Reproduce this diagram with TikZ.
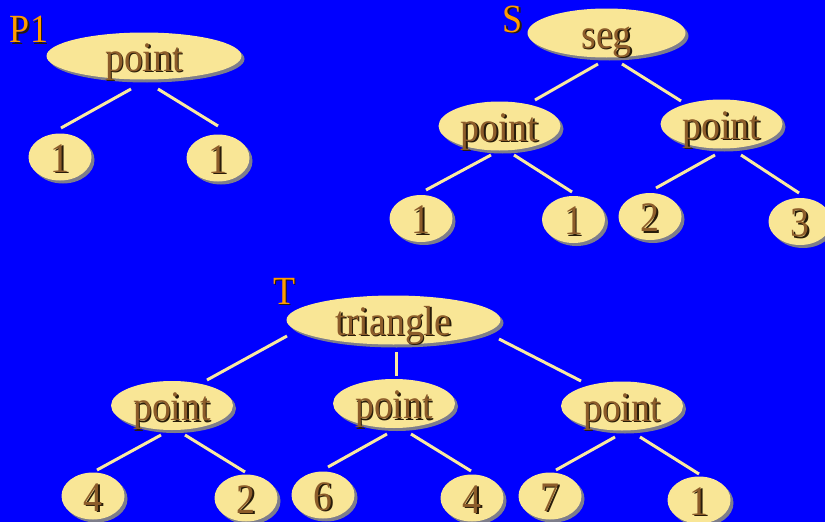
\documentclass[tikz,border=0pt]{standalone}
\usepackage{fontspec}
\setmainfont{Liberation Serif}[FakeStretch=0.9]
\usetikzlibrary{shapes.geometric,shadows}
\definecolor{bgblue}{RGB}{0,0,255}
\definecolor{ellfill}{RGB}{249,230,150}
\definecolor{edgecol}{RGB}{250,234,160}
\definecolor{shgray}{RGB}{125,125,140}
\definecolor{txtbrown}{RGB}{140,92,42}
\definecolor{txtshadow}{RGB}{40,28,10}
\definecolor{lblorange}{RGB}{255,155,0}
\newcommand{\shtxt}[1]{\makebox[0pt]{\smash{\raisebox{-15pt}{\rlap{\kern1.6pt\raisebox{-1.6pt}{\color{txtshadow}#1}}\color{txtbrown}#1}}}}
\newcommand{\lbltxt}[1]{\rlap{\kern1.6pt\raisebox{-1.6pt}{\color{txtshadow}#1}}\color{lblorange}#1}
\tikzset{
  treenode/.style={ellipse,fill=ellfill,inner sep=0pt,
    font=\fontsize{42}{44}\selectfont,
    drop shadow={shadow xshift=3pt,shadow yshift=-3pt,fill=shgray,opacity=1}},
  leaf/.style={treenode,minimum width=63pt,minimum height=47pt},
  pnode/.style={treenode,minimum width=122pt,minimum height=49pt},
  tag/.style={inner sep=0pt,font=\fontsize{40}{42}\selectfont},
  edge/.style={draw=edgecol,line width=3pt}
}
\begin{document}
\begin{tikzpicture}[x=1pt,y=-1pt]
\fill[bgblue] (0,0) rectangle (825,522);
\useasboundingbox (0,0) rectangle (825,522);
% ---- P1 ----
\node[tag] (tP1) at (29,30) {\lbltxt{P1}};
\node[treenode,minimum width=195pt,minimum height=47pt] (p1) at (144,56) {\shtxt{point}};
\node[leaf] (p1a) at (60,157) {\shtxt{1}};
\node[leaf] (p1b) at (218,158) {\shtxt{1}};
\draw[edge] ([shift={(-13,33)}]p1.center) -- ([shift={(1,-29)}]p1a.center);
\draw[edge] ([shift={(14,33)}]p1.center) -- ([shift={(0,-32)}]p1b.center);
% ---- S ----
\node[tag] (tS) at (513,20) {\lbltxt{S}};
\node[treenode,minimum width=158pt,minimum height=49pt] (seg) at (606.5,33) {\shtxt{seg}};
\node[pnode] (sl) at (499.5,126) {\shtxt{point}};
\node[pnode] (sr) at (721.5,124) {\shtxt{point}};
\node[leaf] (sl1) at (421,218.5) {\shtxt{1}};
\node[leaf] (sl2) at (573.5,219.5) {\shtxt{1}};
\node[leaf] (sr1) at (650,216.5) {\shtxt{2}};
\node[leaf] (sr2) at (800,221.5) {\shtxt{3}};
\draw[edge] ([shift={(-8.5,31)}]seg.center) -- ([shift={(35.5,-26)}]sl.center);
\draw[edge] ([shift={(15.5,31)}]seg.center) -- ([shift={(-40.5,-23)}]sr.center);
\draw[edge] ([shift={(-8.5,29)}]sl.center) -- ([shift={(5,-28.5)}]sl1.center);
\draw[edge] ([shift={(14.5,29)}]sl.center) -- ([shift={(-1.5,-27.5)}]sl2.center);
\draw[edge] ([shift={(-6.5,31)}]sr.center) -- ([shift={(6,-28.5)}]sr1.center);
\draw[edge] ([shift={(19.5,31)}]sr.center) -- ([shift={(-1,-28.5)}]sr2.center);
% ---- T ----
\node[tag] (tT) at (284,292) {\lbltxt{T}};
\node[treenode,minimum width=214pt,minimum height=49pt] (tri) at (393.5,320) {\shtxt{triangle}};
\node[pnode] (tl) at (172,405.5) {\shtxt{point}};
\node[pnode] (tm) at (394,403.5) {\shtxt{point}};
\node[pnode] (tr) at (622,406) {\shtxt{point}};
\node[leaf] (tl1) at (93,496) {\shtxt{4}};
\node[leaf] (tl2) at (246,498) {\shtxt{2}};
\node[leaf] (tm1) at (323,495) {\shtxt{6}};
\node[leaf] (tm2) at (472,498) {\shtxt{4}};
\node[leaf] (tr1) at (550,496) {\shtxt{7}};
\node[leaf] (tr2) at (699,500) {\shtxt{1}};
\draw[edge] ([shift={(-106.5,16)}]tri.center) -- ([shift={(35,-25.5)}]tl.center);
\draw[edge] ([shift={(2.5,32)}]tri.center) -- ([shift={(2,-27.5)}]tm.center);
\draw[edge] ([shift={(105.5,19)}]tri.center) -- ([shift={(-41,-25)}]tr.center);
\draw[edge] ([shift={(-11,29.5)}]tl.center) -- ([shift={(4,-26)}]tl1.center);
\draw[edge] ([shift={(13,29.5)}]tl.center) -- ([shift={(-1,-26)}]tl2.center);
\draw[edge] ([shift={(-7,30.5)}]tm.center) -- ([shift={(5,-28)}]tm1.center);
\draw[edge] ([shift={(17,30.5)}]tm.center) -- ([shift={(-1,-27)}]tm2.center);
\draw[edge] ([shift={(-7,31)}]tr.center) -- ([shift={(6,-26)}]tr1.center);
\draw[edge] ([shift={(18,31)}]tr.center) -- ([shift={(0,-26)}]tr2.center);
\end{tikzpicture}
\end{document}
